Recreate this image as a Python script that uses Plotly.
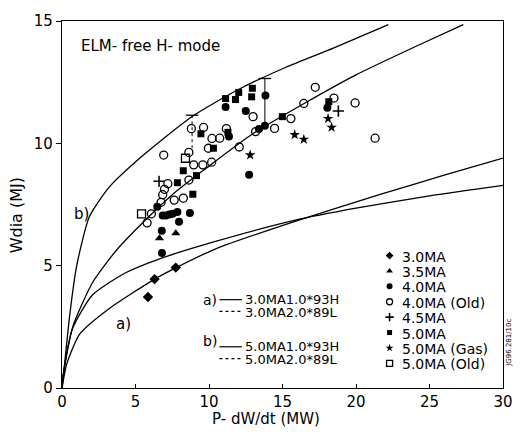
import plotly.graph_objects as go

# ---------------- data ----------------
# model curves  (P - dW/dt in MW, Wdia in MJ)
b1_P = [0, 0.11, 0.53, 1.0, 1.86, 3.2, 5.5, 8.85, 12.0, 15.2, 18.5, 22.2]
b1_W = [0, 0.6, 3.0, 5.0, 7.0, 8.2, 9.5, 11.1, 12.2, 13.1, 13.9, 14.85]
b2_P = [0, 0.1, 0.73, 2.07, 3.66, 5.4, 7.5, 9.85, 13.0, 16.5, 20.0, 24.2, 27.3]
b2_W = [0, 0.6, 2.5, 4.3, 5.6, 6.7, 7.9, 9.0, 10.4, 11.64, 12.8, 14.0, 14.85]
a1_P = [0, 0.1, 0.73, 2.07, 4.3, 6.5, 10.5, 15.8, 20.0, 25.0, 30]
a1_W = [0, 0.6, 2.45, 3.8, 4.7, 5.25, 6.0, 6.85, 7.35, 7.85, 8.28]
a2_P = [0, 0.33, 1.2, 3.2, 6.3, 7.7, 10.5, 15.8, 21.7, 26.0, 30]
a2_W = [0, 1.0, 2.2, 3.24, 4.45, 4.9, 5.7, 6.8, 7.92, 8.7, 9.4]

# measured points
ma30_P = [5.85, 6.3, 7.74]
ma30_W = [3.72, 4.45, 4.92]
ma35_P = [6.63, 7.74]
ma35_W = [6.12, 6.32]
ma40_P = [6.8, 6.79, 7.96, 6.85, 7.07, 7.3, 7.52, 7.85, 8.7, 6.48, 11.13, 13.84, 12.5, 13.4, 13.8, 12.73, 11.36, 18.05]
ma40_W = [5.52, 6.43, 6.79, 7.05, 7.05, 7.09, 7.12, 7.19, 7.15, 7.41, 11.49, 11.95, 11.32, 10.59, 10.72, 8.72, 10.28, 11.45]
ma40old_P = [7.2, 6.97, 6.85, 6.74, 7.63, 8.25, 8.63, 6.08, 5.79, 8.8, 9.63, 10.2, 9.96, 6.92, 8.63,
             8.96, 9.58, 10.18, 10.73, 11.18, 12.06, 13.0, 13.17, 14.46, 15.57, 16.45, 17.23, 18.5, 19.94, 21.3]
ma40old_W = [8.35, 8.12, 7.9, 7.59, 7.68, 7.76, 8.5, 7.12, 6.75, 10.6, 10.65, 10.2, 9.8, 9.52, 9.63,
             9.12, 9.12, 9.23, 10.21, 10.6, 9.85, 11.09, 10.48, 10.61, 11.01, 11.63, 12.29, 11.85, 11.65, 10.21]
ma45_P = [6.6, 18.8]
ma45_W = [8.45, 11.32]
ma50_P = [7.85, 8.9, 9.15, 8.25, 9.45, 10.3, 11.13, 11.8, 12.02, 12.95, 12.9, 14.99, 11.29, 18.15]
ma50_W = [8.39, 7.92, 8.68, 8.88, 10.39, 9.8, 11.83, 11.79, 12.08, 12.25, 11.9, 11.09, 10.45, 11.7]
ma50gas_P = [12.8, 15.83, 16.45, 18.1, 18.34]
ma50gas_W = [9.52, 10.35, 10.16, 11.01, 10.65]
ma50old_P = [5.41, 8.4]
ma50old_W = [7.12, 9.39]

# error bars (P, upper W, lower W)
err_P = [8.85, 13.8]
err_hi = [11.15, 12.65]
err_lo = [9.8, 10.72]

x_ticks = [0, 5, 10, 15, 20, 25, 30]
y_ticks = [0, 5, 10, 15]

series_labels = ["3.0MA", "3.5MA", "4.0MA", "4.0MA (Old)", "4.5MA", "5.0MA", "5.0MA (Gas)", "5.0MA (Old)"]
curve_labels = ["3.0MA1.0*93H", "3.0MA2.0*89L", "5.0MA1.0*93H", "5.0MA2.0*89L"]

# ---------------- styling ----------------
F = "DejaVu Sans"
BLK = "black"
L, T, PW, PH = 62, 14, 451, 374  # plot area in pixels


def px2p(x, y):
    return (x - L) / PW, (T + PH - y) / PH


fig = go.Figure()

for P, W in [(b1_P, b1_W), (b2_P, b2_W), (a1_P, a1_W), (a2_P, a2_W)]:
    fig.add_trace(go.Scatter(x=P, y=W, mode="lines",
                             line=dict(color=BLK, width=1.3, shape="spline", smoothing=0.6),
                             hoverinfo="skip", showlegend=False))

# error bars
fig.add_trace(go.Scatter(x=[err_P[0], err_P[0]], y=[err_hi[0], err_lo[0]], mode="lines",
                         line=dict(color=BLK, width=1, dash="dot"), showlegend=False))
fig.add_trace(go.Scatter(x=[err_P[1], err_P[1]], y=[err_hi[1], err_lo[1]], mode="lines",
                         line=dict(color=BLK, width=1), showlegend=False))
fig.add_trace(go.Scatter(x=err_P, y=err_hi, mode="markers",
                         marker=dict(symbol="line-ew", size=9, line=dict(color=BLK, width=1.3)),
                         showlegend=False))

styles = [
    dict(symbol="diamond", size=8, color=BLK),
    dict(symbol="triangle-up", size=8, color=BLK),
    dict(symbol="circle", size=8, color=BLK),
    dict(symbol="circle-open", size=8, color=BLK, line=dict(color=BLK, width=1.3)),
    dict(symbol="cross-thin", size=8, color=BLK, line=dict(color=BLK, width=1.6)),
    dict(symbol="square", size=7, color=BLK),
    dict(symbol="star", size=8, color=BLK),
    dict(symbol="square-open", size=8, color=BLK, line=dict(color=BLK, width=1.3)),
]
data_sets = [(ma30_P, ma30_W), (ma35_P, ma35_W), (ma40_P, ma40_W), (ma40old_P, ma40old_W),
             (ma45_P, ma45_W), (ma50_P, ma50_W), (ma50gas_P, ma50gas_W), (ma50old_P, ma50old_W)]

for (P, W), st, name in zip(data_sets, styles, series_labels):
    fig.add_trace(go.Scatter(x=P, y=W, mode="markers", marker=st, name=name, showlegend=False))

# custom marker legend on an overlay axis (0..1 spanning plot area)
leg_x_px, leg_y0_px, leg_dy = 397, 253, 15.7
annotations = []
for i, (st, name) in enumerate(zip(styles, series_labels)):
    lx, ly = px2p(leg_x_px, leg_y0_px + i * leg_dy)
    sst = dict(st)
    sst["size"] = max(5, st["size"] - 2)
    fig.add_trace(go.Scatter(x=[lx], y=[ly], mode="markers", marker=sst, xaxis="x2", yaxis="y2",
                             showlegend=False, hoverinfo="skip"))
    tx, ty = px2p(leg_x_px + 12, leg_y0_px + i * leg_dy + 1)
    annotations.append(dict(x=tx, y=ty, xref="paper", yref="paper", text=name, showarrow=False,
                            xanchor="left", yanchor="middle", borderpad=0,
                            font=dict(family=F, size=14, color=BLK)))

# curve legend
shapes = []
rows = [(298, 298, "solid"), (310, 311, "dot"), (346, 346, "solid"), (358, 359, "dot")]
for (ly_px, ty_px, dash), lab in zip(rows, curve_labels):
    x0, y0 = px2p(223, ly_px)
    x1, _ = px2p(246, ly_px)
    shapes.append(dict(type="line", xref="paper", yref="paper", x0=x0, x1=x1, y0=y0, y1=y0,
                       line=dict(color=BLK, width=1.2, dash=dash)))
    tx, ty = px2p(248, ty_px)
    annotations.append(dict(x=tx, y=ty, xref="paper", yref="paper", text=lab, showarrow=False,
                            xanchor="left", yanchor="middle", borderpad=0,
                            font=dict(family=F, size=13, color=BLK)))
for txt, (xp, yp) in [("a)", (213, 298)), ("b)", (213, 340))]:
    ax_, ay_ = px2p(xp, yp)
    annotations.append(dict(x=ax_, y=ay_, xref="paper", yref="paper", text=txt, showarrow=False,
                            xanchor="center", yanchor="middle", borderpad=0,
                            font=dict(family=F, size=14, color=BLK)))

# curve labels inside plot
annotations.append(dict(x=1.33, y=7.1, xref="x", yref="y", text="b)", showarrow=False,
                        font=dict(family=F, size=15, color=BLK)))
annotations.append(dict(x=4.2, y=2.6, xref="x", yref="y", text="a)", showarrow=False,
                        font=dict(family=F, size=15, color=BLK)))

# title text
tx, ty = px2p(79, 39)
annotations.append(dict(x=tx, y=ty, xref="paper", yref="paper", text="ELM- free H- mode", showarrow=False,
                        xanchor="left", yanchor="middle", font=dict(family=F, size=15, color=BLK)))
# axis titles
tx, ty = px2p(271, 420)
annotations.append(dict(x=tx, y=ty, xref="paper", yref="paper", text="P- dW/dt (MW)", showarrow=False,
                        xanchor="center", yanchor="middle", font=dict(family=F, size=15, color=BLK)))
tx, ty = px2p(15, 212)
annotations.append(dict(x=tx, y=ty, xref="paper", yref="paper", text="Wdia (MJ)", showarrow=False,
                        textangle=-90, xanchor="center", yanchor="middle",
                        font=dict(family=F, size=16, color=BLK)))
# side code
tx, ty = px2p(519, 342)
annotations.append(dict(x=tx, y=ty, xref="paper", yref="paper", text="JG96.281/10c", showarrow=False,
                        textangle=-90, xanchor="center", yanchor="middle",
                        font=dict(family=F, size=7, color=BLK)))

fig.update_layout(
    width=525, height=432,
    margin=dict(l=L, r=525 - L - PW, t=T, b=432 - T - PH),
    paper_bgcolor="white", plot_bgcolor="white",
    showlegend=False,
    font=dict(family=F, size=15, color=BLK),
    xaxis=dict(range=[0, 30], tickvals=x_ticks, ticks="inside", ticklen=4, tickcolor=BLK,
               showline=True, linecolor=BLK, linewidth=1.2, mirror=True, showgrid=False,
               zeroline=False, tickfont=dict(family=F, size=15, color=BLK)),
    yaxis=dict(range=[0, 15], tickvals=y_ticks, ticks="outside", ticklen=5, tickcolor=BLK,
               showline=True, linecolor=BLK, linewidth=1.2, mirror=True, showgrid=False,
               zeroline=False, tickfont=dict(family=F, size=15, color=BLK)),
    xaxis2=dict(range=[0, 1], overlaying="x", visible=False, fixedrange=True),
    yaxis2=dict(range=[0, 1], overlaying="y", visible=False, fixedrange=True),
    annotations=annotations,
    shapes=shapes,
)

fig.write_html("out.html")
